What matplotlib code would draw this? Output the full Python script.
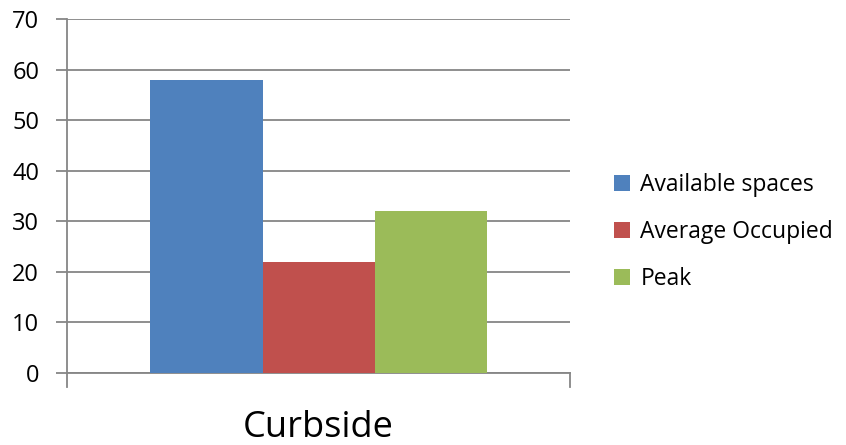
import matplotlib

matplotlib.use("Agg")

import matplotlib.pyplot as plt
from matplotlib.patches import Patch

category = "Curbside"
series_names = ["Available spaces", "Average Occupied", "Peak"]
series_values = [58, 22, 32]
series_colors = ["#4f81bd", "#c0504d", "#9bbb59"]
y_ticks = [0, 10, 20, 30, 40, 50, 60, 70]

plt.rcParams["font.family"] = ["Open Sans", "DejaVu Sans"]

fig = plt.figure(figsize=(8.46, 4.45), dpi=100)
ax = fig.add_axes([0.0792, 0.1618, 0.5946, 0.7955])

bar_width = 0.2227
offsets = [-bar_width, 0.0, bar_width]
for name, value, color, off in zip(series_names, series_values, series_colors, offsets):
    ax.bar(off, value, width=bar_width, color=color, label=name, zorder=3)

ax.set_xlim(-0.5, 0.5)
ax.set_ylim(0, 70)
ax.set_yticks(y_ticks)
ax.set_yticklabels([str(t) for t in y_ticks], fontsize=17)
ax.grid(axis="y", color="#868686", linewidth=1.3, zorder=0)

for side in ("top", "right"):
    ax.spines[side].set_visible(False)
for side in ("left", "bottom"):
    ax.spines[side].set_color("#868686")
    ax.spines[side].set_linewidth(1.3)

ax.tick_params(axis="y", length=8, width=1.3, color="#868686", pad=12)
ax.set_xticks([])
# category boundary ticks below the x axis
for xb in (-0.5, 0.5):
    ax.plot([xb, xb], [0, -0.04], transform=ax.get_xaxis_transform(),
            color="#868686", linewidth=1.3, clip_on=False)

ax.text(0.5, -0.155, category, transform=ax.transAxes, ha="center", va="center",
        fontsize=26)

handles = [Patch(facecolor=c, label=n) for n, c in zip(series_names, series_colors)]
fig.legend(handles=handles, loc="center left", bbox_to_anchor=(0.715, 0.478),
           frameon=False, fontsize=16.5, handlelength=0.7, handleheight=0.7,
           handletextpad=0.45, labelspacing=1.0, borderaxespad=0)

fig.savefig("out.png", dpi=100)
